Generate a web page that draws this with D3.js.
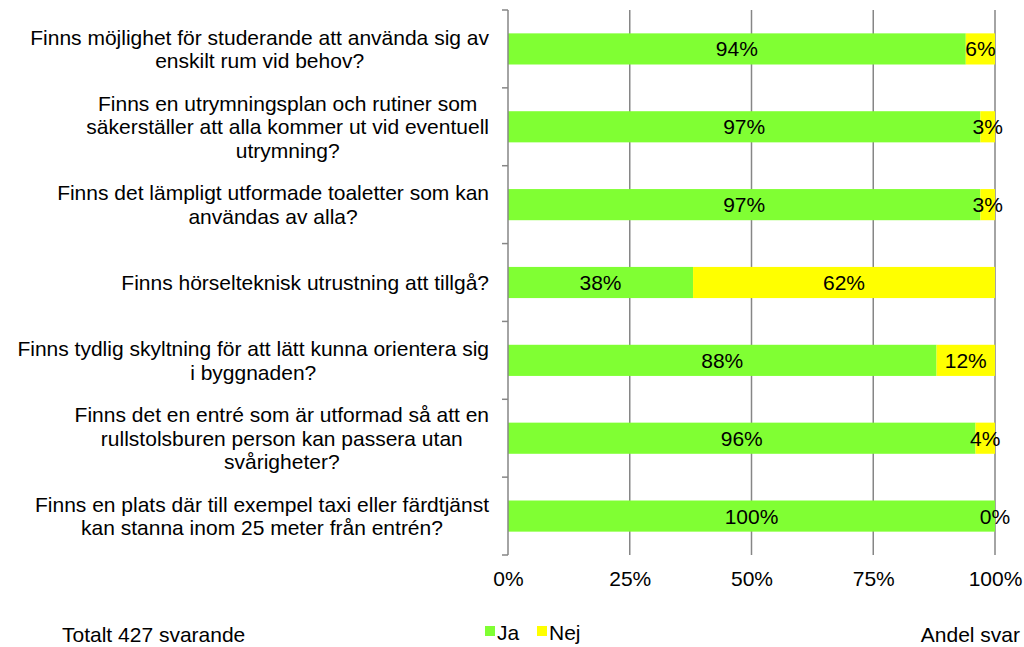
<!DOCTYPE html>
<html>
<head>
<meta charset="utf-8">
<script src="https://cdn.jsdelivr.net/npm/d3@7"></script>
<style>
  body { margin: 0; background: #fff; }
  text { font-family: "Liberation Sans", Arial, sans-serif; fill: #000; }
</style>
</head>
<body>
<svg id="chart"></svg>
<script>
// chart size
const width = 1024, height = 647;
const fontSize = '21px';

// questions, one array of lines per bar
const questions = [
  ['Finns möjlighet för studerande att använda sig av', 'enskilt rum vid behov?'],
  ['Finns en utrymningsplan och rutiner som', 'säkerställer att alla kommer ut vid eventuell', 'utrymning?'],
  ['Finns det lämpligt utformade toaletter som kan', 'användas av alla?'],
  ['Finns hörselteknisk utrustning att tillgå?'],
  ['Finns tydlig skyltning för att lätt kunna orientera sig', 'i byggnaden?'],
  ['Finns det en entré som är utformad så att en', 'rullstolsburen person kan passera utan', 'svårigheter?'],
  ['Finns en plats där till exempel taxi eller färdtjänst', 'kan stanna inom 25 meter från entrén?']
];
const ja  = [94, 97, 97, 38, 88, 96, 100];
const nej = [6, 3, 3, 62, 12, 4, 0];
const xTicks = [0, 25, 50, 75, 100];
const seriesNames = ['Ja', 'Nej'];
const colors = ['#80ff33', '#ffff00'];

const margin = { top: 10, right: 29, bottom: 92, left: 508 };

const svg = d3.select('#chart').attr('width', width).attr('height', height);

const x = d3.scaleLinear().domain([0, 100]).range([margin.left, width - margin.right]);
const y = d3.scaleBand().domain(d3.range(questions.length))
  .range([margin.top, height - margin.bottom]).paddingInner(0.6).paddingOuter(0.3);
const yEdge = d3.scaleLinear().domain([0, questions.length]).range([margin.top, height - margin.bottom]);

// vertical gridlines
svg.append('g').selectAll('line')
  .data(xTicks.slice(1))
  .enter().append('line')
  .attr('x1', d => x(d)).attr('x2', d => x(d))
  .attr('y1', margin.top).attr('y2', height - margin.bottom)
  .attr('stroke', '#868686').attr('stroke-width', 1.5);

// x axis labels only (no line)
const xAxis = svg.append('g')
  .attr('transform', `translate(0,${height - margin.bottom})`)
  .call(d3.axisBottom(x).tickValues(xTicks).tickFormat(d => d + '%').tickSize(0).tickPadding(16));
xAxis.select('.domain').remove();
xAxis.selectAll('text').style('font-size', fontSize).attr('font-family', null);

// stacked data
const stacked = d3.stack().keys([0, 1])(ja.map((v, i) => [v, nej[i]]));

const layers = svg.append('g').selectAll('g')
  .data(stacked)
  .enter().append('g')
  .attr('fill', (d, i) => colors[i]);

layers.selectAll('rect')
  .data(d => d)
  .enter().append('rect')
  .attr('x', d => x(d[0]))
  .attr('width', d => x(d[1]) - x(d[0]))
  .attr('y', (d, i) => y(i))
  .attr('height', y.bandwidth());

// value labels
layers.selectAll('text')
  .data(d => d)
  .enter().append('text')
  .attr('x', d => (x(d[0]) + x(d[1])) / 2)
  .attr('y', (d, i) => y(i) + y.bandwidth() / 2)
  .attr('dy', '0.36em')
  .attr('text-anchor', 'middle')
  .style('font-size', fontSize)
  .text(d => (d[1] - d[0]) + '%');

// y axis line and ticks at category boundaries
svg.append('line')
  .attr('x1', margin.left).attr('x2', margin.left)
  .attr('y1', margin.top).attr('y2', height - margin.bottom)
  .attr('stroke', '#868686').attr('stroke-width', 1.5);
svg.append('g').selectAll('line')
  .data(d3.range(questions.length + 1))
  .enter().append('line')
  .attr('x1', margin.left - 6).attr('x2', margin.left)
  .attr('y1', d => yEdge(d)).attr('y2', d => yEdge(d))
  .attr('stroke', '#868686').attr('stroke-width', 1.5);

// category labels: block right-aligned, lines centred in the block
const lineH = 23.5;
questions.forEach((lines, i) => {
  const g = svg.append('g');
  const cy = y(i) + y.bandwidth() / 2;
  const texts = lines.map((t, j) => g.append('text')
    .attr('y', cy + (j - (lines.length - 1) / 2) * lineH)
    .attr('dy', '0.36em')
    .attr('text-anchor', 'middle')
    .style('font-size', fontSize)
    .text(t));
  const maxW = d3.max(texts, t => t.node().getComputedTextLength());
  texts.forEach(t => t.attr('x', 489 - maxW / 2));
});

// legend
const legend = svg.append('g').attr('transform', 'translate(485,640)');
const lx = [0, 52];
seriesNames.forEach((name, i) => {
  legend.append('rect').attr('x', lx[i]).attr('y', -14).attr('width', 10).attr('height', 10).attr('fill', colors[i]);
  legend.append('text').attr('x', lx[i] + 12).attr('y', 0).style('font-size', fontSize).text(name);
});

// footer texts
svg.append('text').attr('x', 62).attr('y', 642).style('font-size', fontSize).text('Totalt 427 svarande');
svg.append('text').attr('x', 1020).attr('y', 642).attr('text-anchor', 'end').style('font-size', fontSize).text('Andel svar');
</script>
</body>
</html>
